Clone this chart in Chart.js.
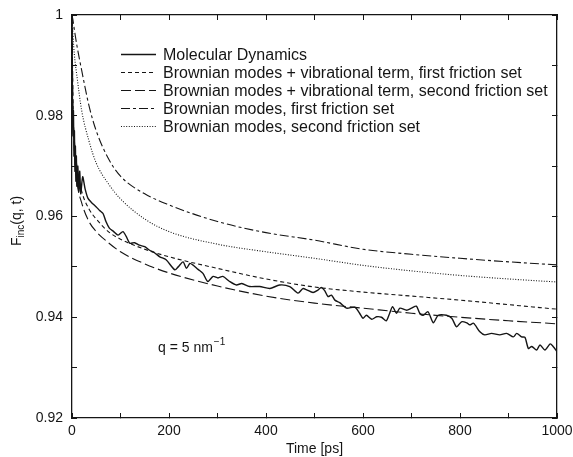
<!DOCTYPE html>
<html lang="en">
<head>
  <meta charset="utf-8" />
  <title>Fs(q,t) – Time [ps]</title>
  <script src="https://cdn.jsdelivr.net/npm/chart.js@4/dist/chart.umd.min.js"></script>
  <style>
    html, body { margin: 0; padding: 0; background: #fff; }
    #wrap { width: 573px; height: 457px; }
  </style>
</head>
<body>
  <div id="wrap"><canvas id="chartFinc" width="573" height="457"></canvas></div>

  <script>
    // legend labels, in drawing order
    const seriesNames = [
      'Molecular Dynamics',
      'Brownian modes + vibrational term, first friction set',
      'Brownian modes + vibrational term, second friction set',
      'Brownian modes, first friction set',
      'Brownian modes, second friction set'
    ];

    // model curves share one time grid [ps]
    const modelTime = [0, 1, 2, 5, 10, 20, 35, 50, 75, 100, 150, 200, 300, 400, 500, 600, 700, 800, 900, 1000];
    const vibFirst  = [1, 0.99, 0.982, 0.975, 0.970, 0.965, 0.9615, 0.9595, 0.957, 0.9555, 0.9535, 0.952, 0.9497, 0.9476, 0.946, 0.945, 0.9442, 0.9434, 0.9425, 0.9416];
    const vibSecond = [1, 0.99, 0.982, 0.973, 0.967, 0.9627, 0.959, 0.957, 0.9548, 0.953, 0.9506, 0.9488, 0.9462, 0.9442, 0.9428, 0.9418, 0.9408, 0.94, 0.9393, 0.9387];
    const brownFirst  = [1, 0.9995, 0.999, 0.997, 0.994, 0.989, 0.982, 0.977, 0.9715, 0.968, 0.9645, 0.9623, 0.959, 0.9568, 0.9553, 0.9535, 0.9525, 0.9517, 0.951, 0.9504];
    const brownSecond = [1, 0.998, 0.996, 0.992, 0.988, 0.981, 0.975, 0.9706, 0.9665, 0.9635, 0.9595, 0.957, 0.9545, 0.953, 0.9517, 0.9503, 0.9492, 0.9483, 0.9476, 0.947];

    // molecular dynamics trace (noisy)
    const mdTime = [0, 1, 2, 3, 4, 5, 6, 7, 8, 9,
      10, 12, 14, 16, 18, 22, 27, 33, 40, 50,
      57, 64, 70, 77, 86, 95, 105, 112, 119, 129,
      139, 150, 160, 170, 181, 194, 212, 219, 229, 236,
      243, 249, 260, 270, 280, 291, 301, 311, 325, 339,
      350, 366, 387, 408, 428, 449, 466, 476, 483, 497,
      507, 514, 521, 528, 535, 542, 552, 566, 583, 593,
      600, 607, 618, 628, 638, 648, 655, 661, 669, 676,
      690, 700, 710, 717, 724, 734, 745, 755, 772, 783,
      793, 803, 814, 820, 828, 841, 851, 865, 882, 896,
      910, 917, 927, 934, 941, 948, 958, 965, 975, 986,
      992, 1000];
    const mdValue = [1, 0.982, 0.976, 0.981, 0.972, 0.977, 0.969, 0.974, 0.967, 0.972,
      0.966, 0.970, 0.965, 0.969, 0.9645, 0.9679, 0.9655, 0.9636, 0.9628, 0.9619,
      0.9612, 0.9606, 0.959, 0.9577, 0.957, 0.9563, 0.957, 0.956, 0.9547, 0.9548,
      0.9543, 0.954, 0.9533, 0.9528, 0.952, 0.9514, 0.9494, 0.950, 0.951, 0.9497,
      0.9507, 0.9504, 0.9495, 0.9487, 0.9471, 0.9481, 0.9478, 0.9481, 0.9471, 0.9464,
      0.9467, 0.9461, 0.9461, 0.9457, 0.9464, 0.9461, 0.9448, 0.9457, 0.9455, 0.9449,
      0.9454, 0.9459, 0.9453, 0.9441, 0.9444, 0.9434, 0.9429, 0.9418, 0.942, 0.9408,
      0.9398, 0.9404, 0.9396, 0.9401, 0.940, 0.9393, 0.9408, 0.9421, 0.9408, 0.9418,
      0.9414, 0.9418, 0.9422, 0.9408, 0.9404, 0.9411, 0.9389, 0.9404, 0.9404, 0.9398,
      0.9381, 0.9391, 0.9389, 0.9385, 0.9388, 0.9371, 0.9365, 0.9368, 0.9365, 0.9368,
      0.9361, 0.9368, 0.9361, 0.936, 0.9338, 0.9342, 0.9335, 0.9345, 0.9335, 0.9347,
      0.9342, 0.9332];

    const ink = '#151515';
    const FONT = '"Liberation Sans", Arial, Helvetica, sans-serif';
    Chart.defaults.font.family = FONT;
    Chart.defaults.font.size = 14;
    Chart.defaults.color = ink;

    const toPoints = (ts, vs) => ts.map((t, i) => ({ x: t, y: vs[i] }));

    // legend, y title and the q annotation are drawn on top
    const overlay = {
      id: 'overlay',
      afterDraw(chart) {
        const { ctx, chartArea: ca } = chart;
        ctx.save();
        ctx.fillStyle = ink;
        ctx.font = '16px ' + FONT;
        ctx.textBaseline = 'middle';
        chart.data.datasets.forEach((ds, i) => {
          const y = Math.round(ca.top + 38.5 + i * 18) + 0.5;
          ctx.strokeStyle = ink;
          ctx.lineWidth = ds.borderWidth;
          ctx.setLineDash(ds.borderDash || []);
          ctx.beginPath();
          ctx.moveTo(ca.left + 49, y);
          ctx.lineTo(ca.left + 84, y);
          ctx.stroke();
          ctx.fillText(ds.label, ca.left + 91, y + 1);
        });
        ctx.setLineDash([]);

        // q = 5 nm^-1
        ctx.textBaseline = 'alphabetic';
        ctx.textAlign = 'left';
        const qx = 158, qy = 352;
        const main = 'q = 5 nm';
        ctx.font = '14px ' + FONT;
        ctx.fillText(main, qx, qy);
        const mw = ctx.measureText(main).width;
        ctx.font = '10px ' + FONT;
        ctx.fillText('\u22121', qx + mw + 1, qy - 7);

        // F_inc(q, t)
        ctx.translate(21, 221);
        ctx.rotate(-Math.PI / 2);
        ctx.font = '14px ' + FONT;
        const wF = ctx.measureText('F').width;
        const wP = ctx.measureText('(q, t)').width;
        ctx.font = '10px ' + FONT;
        const wS = ctx.measureText('inc').width;
        const x0 = -(wF + wS + wP) / 2;
        ctx.font = '14px ' + FONT;
        ctx.fillText('F', x0, 0);
        ctx.font = '10px ' + FONT;
        ctx.fillText('inc', x0 + wF, 3);
        ctx.font = '14px ' + FONT;
        ctx.fillText('(q, t)', x0 + wF + wS, 0);
        ctx.restore();
      }
    };

    const frameGrid = { drawOnChartArea: false, tickLength: -5, color: ink, lineWidth: 1 };
    const frameBorder = { color: ink, width: 1.3 };
    // keep label overhang from shrinking the plot box
    const noPadX = s => { s.paddingLeft = 0; s.paddingRight = 0; };
    const noPadY = s => { s.paddingTop = 0; s.paddingBottom = 0; };

    new Chart(document.getElementById('chartFinc').getContext('2d'), {
      type: 'line',
      data: {
        datasets: [
          { label: seriesNames[0], data: toPoints(mdTime, mdValue), borderColor: ink, borderWidth: 1.4, tension: 0.25 },
          { label: seriesNames[1], data: toPoints(modelTime, vibFirst), borderColor: ink, borderWidth: 1.1, borderDash: [4, 3], cubicInterpolationMode: 'monotone' },
          { label: seriesNames[2], data: toPoints(modelTime, vibSecond), borderColor: ink, borderWidth: 1.1, borderDash: [10, 4], cubicInterpolationMode: 'monotone' },
          { label: seriesNames[3], data: toPoints(modelTime, brownFirst), borderColor: ink, borderWidth: 1.1, borderDash: [9, 3, 3, 3], cubicInterpolationMode: 'monotone' },
          { label: seriesNames[4], data: toPoints(modelTime, brownSecond), borderColor: ink, borderWidth: 1.1, borderDash: [1, 1.6], cubicInterpolationMode: 'monotone' }
        ]
      },
      options: {
        responsive: false,
        animation: false,
        elements: { point: { radius: 0 } },
        layout: { padding: 0 },
        plugins: { legend: { display: false }, tooltip: { enabled: false } },
        scales: {
          x: {
            type: 'linear', position: 'bottom', min: 0, max: 1000,
            ticks: { stepSize: 100, autoSkip: false, maxRotation: 0, padding: 10,
              callback: v => (v % 200 === 0 ? String(v) : '') },
            grid: frameGrid, border: frameBorder,
            title: { display: true, text: 'Time [ps]', padding: { top: 0, bottom: -1 } },
            afterFit: s => { s.height = 39; noPadX(s); }
          },
          xTop: {
            type: 'linear', position: 'top', min: 0, max: 1000,
            ticks: { stepSize: 100, autoSkip: false, display: false },
            grid: frameGrid, border: frameBorder,
            afterFit: s => { s.height = 15; noPadX(s); }
          },
          y: {
            type: 'linear', position: 'left', min: 0.92, max: 1,
            ticks: { stepSize: 0.01, autoSkip: false, padding: 14,
              callback: v => {
                const k = Math.round(v * 100);
                if (k % 2 !== 0) return '';
                return k === 100 ? '1' : (k / 100).toFixed(2);
              } },
            grid: frameGrid, border: frameBorder,
            afterFit: s => { s.width = 72; noPadY(s); }
          },
          yRight: {
            type: 'linear', position: 'right', min: 0.92, max: 1,
            ticks: { stepSize: 0.01, autoSkip: false, display: false },
            grid: frameGrid, border: frameBorder,
            afterFit: s => { s.width = 16; noPadY(s); }
          }
        }
      },
      plugins: [overlay]
    });
  </script>
</body>
</html>
